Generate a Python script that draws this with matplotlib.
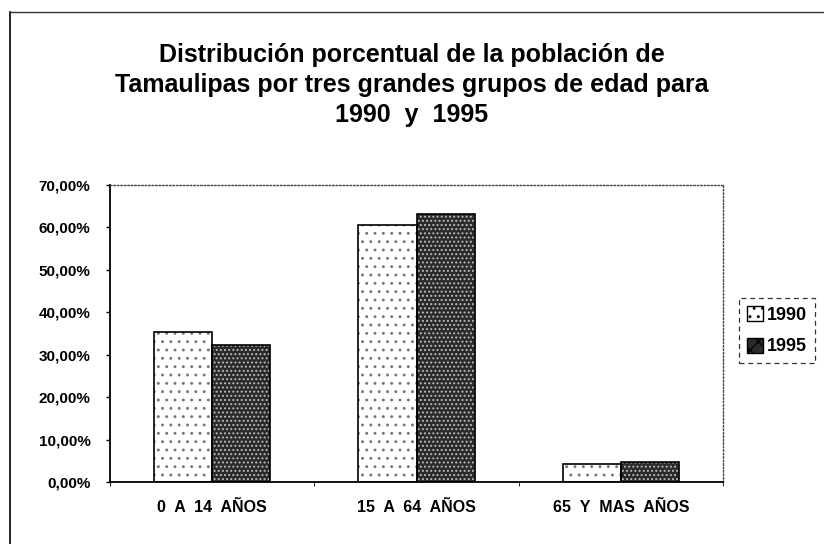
import numpy as np
import matplotlib
matplotlib.use('Agg')
import matplotlib.pyplot as plt
from matplotlib.lines import Line2D
from matplotlib.patches import Patch

# data
categories = ['0  A  14  AÑOS', '15  A  64  AÑOS', '65  Y  MAS  AÑOS']
years = ['1990', '1995']
values_1990 = [35.4, 60.6, 4.3]
values_1995 = [32.3, 63.2, 4.6]
y_ticks = [0, 10, 20, 30, 40, 50, 60, 70]

title = ('Distribución porcentual de la población de\n'
         'Tamaulipas por tres grandes grupos de edad para\n'
         '1990  y  1995')

plt.rcParams['font.family'] = ['Liberation Sans', 'DejaVu Sans']
plt.rcParams['hatch.linewidth'] = 0.9


def main():
    fig = plt.figure(figsize=(8.24, 5.44), dpi=100)
    ax = fig.add_axes([0.1335, 0.114, 0.744, 0.546])

    x = np.arange(len(categories)) + 0.5
    w = 0.285

    # 1990: white with sparse gray dots
    ax.bar(x - w / 2, values_1990, w, color='white', edgecolor='#777777',
           hatch='..', linewidth=0, zorder=2)
    ax.bar(x - w / 2, values_1990, w, color='none', edgecolor='black',
           linewidth=1.2, zorder=3)
    # 1995: dark with fine white dots
    ax.bar(x + w / 2, values_1995, w, color='#2b2b2b', edgecolor='#bdbdbd',
           hatch='....', linewidth=0, zorder=2)
    ax.bar(x + w / 2, values_1995, w, color='none', edgecolor='black',
           linewidth=1.2, zorder=3)

    ax.set_xlim(0, len(categories))
    ax.set_ylim(0, 70)
    ax.set_yticks(y_ticks)
    ax.set_yticklabels([f'{v},00%' for v in y_ticks], fontsize=11,
                       fontweight='bold')
    ax.set_xticks(x)
    ax.set_xticklabels(categories, fontsize=11.5, fontweight='bold')
    ax.tick_params(axis='x', length=0, pad=13)
    ax.set_xticks(np.arange(len(categories) + 1), minor=True)
    ax.tick_params(axis='x', which='minor', length=3, direction='out')
    ax.tick_params(axis='y', length=3, direction='out', pad=11, width=1)

    for side in ['top', 'right']:
        ax.spines[side].set_linestyle((0, (1, 1.5)))
        ax.spines[side].set_color('#444444')
        ax.spines[side].set_linewidth(1)
    ax.spines['left'].set_linewidth(1.3)
    ax.spines['bottom'].set_linewidth(1.3)

    fig.text(0.5, 0.844, title, ha='center', va='center', fontsize=18,
             fontweight='bold', linespacing=1.32)

    handles = [
        Patch(facecolor='white', edgecolor='black', hatch='..', label=years[0]),
        Patch(facecolor='#2b2b2b', edgecolor='black', hatch='xx', label=years[1]),
    ]
    leg = fig.legend(handles=handles, loc='center left',
                     bbox_to_anchor=(0.886, 0.392), frameon=True,
                     fancybox=False, handlelength=0.9, handleheight=0.9,
                     handletextpad=0.2, borderpad=0.45, labelspacing=0.75,
                     prop={'weight': 'bold', 'size': 13})
    leg.get_frame().set_edgecolor('black')
    leg.get_frame().set_linestyle((0, (4, 3)))
    leg.get_frame().set_linewidth(0.9)

    # outer chart frame (left and top)
    fig.add_artist(Line2D([10 / 824, 10 / 824], [0, 1 - 12 / 544],
                          color='black', linewidth=1.2))
    fig.add_artist(Line2D([10 / 824, 1], [1 - 12 / 544, 1 - 12 / 544],
                          color='#333333', linewidth=1.0))

    fig.savefig('out.png', dpi=100)


if __name__ == '__main__':
    main()
